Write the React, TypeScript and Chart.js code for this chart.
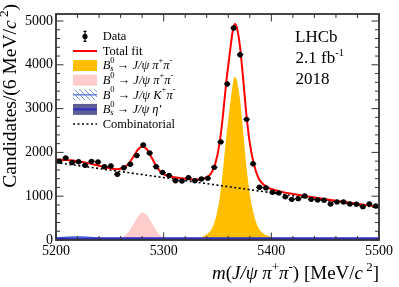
import React, { useEffect, useRef } from 'react';
import { Chart, registerables } from 'chart.js';
Chart.register(...registerables);

const FONT = "'Liberation Serif', 'Times New Roman', serif";

// ---- data (6 MeV bins) ----
const binCenters = [5203,5209,5215,5221,5227,5233,5239,5245,5251,5257,5263,5269,5275,5281,5287,5293,5299,5305,5311,5317,5323,5329,5335,5341,5347,5353,5359,5365,5371,5377,5383,5389,5395,5401,5407,5413,5419,5425,5431,5437,5443,5449,5455,5461,5467,5473,5479,5485,5491,5497];
const candidates = [1800,1875,1770,1785,1708,1796,1780,1674,1689,1500,1651,1730,1930,2169,1985,1674,1540,1475,1354,1347,1423,1354,1393,1408,1659,2240,3562,4840,4231,2755,1740,1203,1190,1090,1075,985,928,944,1005,928,913,906,822,870,868,822,818,761,822,775];
const binHalfWidth = 3;

// ---- fit components ----
const fitMass = [5200,5210,5220,5230,5240,5250,5256,5260,5264,5268,5272,5276,5280,5284,5288,5292,5296,5300,5305,5310,5320,5330,5336,5340,5344,5348,5352,5355,5358,5361,5364,5366,5368,5371,5374,5377,5380,5384,5388,5392,5396,5400,5410,5420,5440,5460,5480,5500];
const totalFit = [1837,1824,1800,1755,1695,1638,1617,1626,1666,1761,1908,2060,2136,2083,1919,1737,1589,1506,1456,1431,1398,1380,1393,1434,1519,1745,2222,2831,3571,4180,4749,4932,4845,4395,3635,2824,2214,1710,1416,1283,1209,1165,1099,1051,971,897,826,755];
const combinatorial = [1770,1736,1701,1667,1632,1598,1577,1563,1549,1535,1522,1508,1494,1480,1466,1453,1439,1425,1408,1391,1356,1322,1301,1287,1273,1259,1246,1235,1225,1215,1204,1197,1190,1180,1170,1159,1149,1135,1121,1108,1094,1080,1046,1011,942,873,804,735];
const bsPiPi = [2,2,3,3,4,5,5,5,6,6,6,7,7,8,8,9,10,11,13,15,22,40,75,130,230,470,960,1580,2330,2950,3530,3720,3640,3200,2450,1650,1050,560,280,160,100,70,38,25,14,9,7,5];
const b0PiPi = [0,1,1,2,4,8,15,40,95,205,365,530,620,580,430,260,125,55,20,10,5,3,2,2,1,1,1,1,1,0,0,0,0,0,0,0,0,0,0,0,0,0,0,0,0,0,0,0];
const b0KPi = [50,70,80,68,40,12,5,3,1,0,0,0,0,0,0,0,0,0,0,0,0,0,0,0,0,0,0,0,0,0,0,0,0,0,0,0,0,0,0,0,0,0,0,0,0,0,0,0];
const bsEtaP = [40,40,40,40,40,40,40,40,40,40,40,40,40,40,40,40,40,40,40,40,40,40,40,40,40,40,40,40,40,40,40,40,40,40,40,40,40,40,40,40,40,40,40,40,40,40,40,40];

// ---- axes ----
const xTickLabels = [5200, 5300, 5400, 5500];
const yTickLabels = [0, 1000, 2000, 3000, 4000, 5000];
const xRange = [5200, 5500];
const yRange = [0, 5160];
const minorDivisions = 5;

type Run = { t: string; it?: boolean; sc?: number; dy?: number; stay?: boolean };

function drawRuns(ctx: CanvasRenderingContext2D, x: number, y: number, size: number, runs: Run[], measureOnly = false) {
  let cx = x;
  for (const r of runs) {
    const s = size * (r.sc ?? 1);
    ctx.font = `${r.it ? 'italic ' : ''}${s}px ${FONT}`;
    const w = ctx.measureText(r.t).width;
    if (!measureOnly) ctx.fillText(r.t, cx, y + (r.dy ?? 0) * size);
    if (!r.stay) cx += w;
  }
  return cx - x;
}

const SUP = { sc: 0.68, dy: -0.42 };
const SUB = { sc: 0.68, dy: 0.22 };

const legendRows: { label: Run[]; kind: string }[] = [
  { kind: 'data', label: [{ t: 'Data' }] },
  { kind: 'total', label: [{ t: 'Total fit' }] },
  { kind: 'bs', label: [{ t: 'B', it: true }, { t: '0', ...SUP, stay: true }, { t: 's', it: true, ...SUB }, { t: ' \u2192 ' }, { t: 'J/\u03C8', it: true }, { t: ' \u03C0', it: true }, { t: '+', ...SUP }, { t: '\u03C0', it: true }, { t: '-', ...SUP }] },
  { kind: 'b0', label: [{ t: 'B', it: true }, { t: '0', ...SUP }, { t: ' \u2192 ' }, { t: 'J/\u03C8', it: true }, { t: ' \u03C0', it: true }, { t: '+', ...SUP }, { t: '\u03C0', it: true }, { t: '-', ...SUP }] },
  { kind: 'kpi', label: [{ t: 'B', it: true }, { t: '0', ...SUP }, { t: ' \u2192 ' }, { t: 'J/\u03C8', it: true }, { t: ' K', it: true }, { t: '+', ...SUP }, { t: '\u03C0', it: true }, { t: '-', ...SUP }] },
  { kind: 'eta', label: [{ t: 'B', it: true }, { t: '0', ...SUP, stay: true }, { t: 's', it: true, ...SUB }, { t: ' \u2192 ' }, { t: 'J/\u03C8', it: true }, { t: ' \u03B7\u2032', it: true }] },
  { kind: 'comb', label: [{ t: 'Combinatorial' }] },
];

const COL = {
  red: 'rgb(255,0,0)',
  orange: 'rgb(255,191,0)',
  pink: 'rgb(255,204,204)',
  hatch: 'rgb(120,150,230)',
  hatchLine: 'rgb(100,130,225)',
  etaFill: 'rgb(95,95,150)',
  etaLine: 'rgb(45,45,200)',
  frame: '#333',
};

function makeHatch(): CanvasPattern | string {
  const c = document.createElement('canvas');
  c.width = 5; c.height = 5;
  const g = c.getContext('2d');
  if (!g) return COL.hatch;
  g.strokeStyle = COL.hatch;
  g.lineWidth = 1;
  g.beginPath();
  g.moveTo(0, 0); g.lineTo(5, 5);
  g.moveTo(-1, 4); g.lineTo(1, 6);
  g.moveTo(4, -1); g.lineTo(6, 1);
  g.stroke();
  return g.createPattern(c, 'repeat') || COL.hatch;
}

export default function App() {
  const ref = useRef<HTMLCanvasElement>(null);
  useEffect(() => {
    const canvas = ref.current;
    if (!canvas) return;
    const hatch = makeHatch();
    const pts = (ys: number[]) => fitMass.map((x, i) => ({ x, y: ys[i] }));
    const curve = {
      pointRadius: 0, borderWidth: 0, tension: 0.4, cubicInterpolationMode: 'monotone' as const,
    };

    const tickValues = (majors: number[], lo: number, hi: number) => {
      const out: { v: number; major: boolean }[] = [];
      const step = (majors[1] - majors[0]) / minorDivisions;
      for (let v = majors[0] - 5 * step; v <= hi + 1e-6; v += step) {
        if (v < lo - 1e-6) continue;
        const major = majors.some((m) => Math.abs(m - v) < 1e-6);
        out.push({ v, major });
      }
      return out;
    };

    const decor = {
      id: 'decor',
      afterDatasetsDraw(chart: any) {
        const { ctx, scales: { x, y } } = chart;
        ctx.save();
        ctx.strokeStyle = '#000';
        ctx.lineWidth = 1.2;
        ctx.beginPath();
        binCenters.forEach((m, i) => {
          const n = candidates[i];
          const e = Math.sqrt(n);
          const cy = y.getPixelForValue(n);
          ctx.moveTo(x.getPixelForValue(m - binHalfWidth), cy);
          ctx.lineTo(x.getPixelForValue(m + binHalfWidth), cy);
          const cx = x.getPixelForValue(m);
          ctx.moveTo(cx, y.getPixelForValue(n + e));
          ctx.lineTo(cx, y.getPixelForValue(n - e));
        });
        ctx.stroke();
        ctx.restore();
      },
      afterDraw(chart: any) {
        const { ctx, chartArea: a, scales: { x, y } } = chart;
        ctx.save();
        // inward ticks on all four sides
        ctx.strokeStyle = COL.frame;
        ctx.lineWidth = 1;
        ctx.beginPath();
        tickValues(xTickLabels, xRange[0], xRange[1]).forEach(({ v, major }) => {
          const px = x.getPixelForValue(v);
          const L = major ? 7.5 : 4;
          ctx.moveTo(px, a.bottom); ctx.lineTo(px, a.bottom - L);
          ctx.moveTo(px, a.top); ctx.lineTo(px, a.top + L);
        });
        tickValues(yTickLabels, yRange[0], yRange[1]).forEach(({ v, major }) => {
          const py = y.getPixelForValue(v);
          const L = major ? 7.5 : 4;
          ctx.moveTo(a.left, py); ctx.lineTo(a.left + L, py);
          ctx.moveTo(a.right, py); ctx.lineTo(a.right - L, py);
        });
        ctx.stroke();
        // frame
        ctx.lineWidth = 1.8;
        ctx.strokeRect(a.left, a.top, a.right - a.left, a.bottom - a.top);

        // legend
        ctx.fillStyle = '#000';
        ctx.textBaseline = 'middle';
        ctx.textAlign = 'left';
        const sx0 = 73, sx1 = 97, tx = 102.7;
        legendRows.forEach((row, i) => {
          const ry = 36.4 + 14.6 * i;
          if (row.kind === 'data') {
            ctx.strokeStyle = '#000'; ctx.lineWidth = 1.2;
            ctx.beginPath();
            ctx.moveTo(85, ry - 5); ctx.lineTo(85, ry + 5);
            ctx.moveTo(83.5, ry - 5); ctx.lineTo(86.5, ry - 5);
            ctx.moveTo(83.5, ry + 5); ctx.lineTo(86.5, ry + 5);
            ctx.stroke();
            ctx.beginPath(); ctx.arc(85, ry, 2.6, 0, Math.PI * 2); ctx.fillStyle = '#000'; ctx.fill();
          } else if (row.kind === 'total') {
            ctx.strokeStyle = COL.red; ctx.lineWidth = 2;
            ctx.beginPath(); ctx.moveTo(sx0, ry); ctx.lineTo(sx1, ry); ctx.stroke();
          } else if (row.kind === 'bs') {
            ctx.fillStyle = COL.orange; ctx.fillRect(sx0, ry - 5.5, sx1 - sx0, 11);
          } else if (row.kind === 'b0') {
            ctx.fillStyle = COL.pink; ctx.fillRect(sx0, ry - 5.5, sx1 - sx0, 11);
          } else if (row.kind === 'kpi') {
            ctx.fillStyle = hatch as any; ctx.fillRect(sx0, ry - 5.5, sx1 - sx0, 11);
            ctx.strokeStyle = COL.hatchLine; ctx.lineWidth = 1.5;
            ctx.beginPath(); ctx.moveTo(sx0, ry); ctx.lineTo(sx1, ry); ctx.stroke();
          } else if (row.kind === 'eta') {
            ctx.fillStyle = COL.etaFill; ctx.fillRect(sx0, ry - 5.5, sx1 - sx0, 11);
            ctx.strokeStyle = COL.etaLine; ctx.lineWidth = 2;
            ctx.beginPath(); ctx.moveTo(sx0, ry); ctx.lineTo(sx1, ry); ctx.stroke();
          } else if (row.kind === 'comb') {
            ctx.strokeStyle = '#000'; ctx.lineWidth = 1.6; ctx.setLineDash([2, 2.5]);
            ctx.beginPath(); ctx.moveTo(sx0, ry); ctx.lineTo(sx1, ry); ctx.stroke();
            ctx.setLineDash([]);
          }
          ctx.fillStyle = '#000';
          drawRuns(ctx, tx, ry + 0.5, 12.5, row.label);
        });

        // LHCb label
        ctx.textBaseline = 'alphabetic';
        drawRuns(ctx, 295, 41.5, 17, [{ t: 'LHCb' }]);
        drawRuns(ctx, 295.5, 63, 17, [{ t: '2.1 fb' }, { t: '-1', sc: 0.62, dy: -0.42 }]);
        drawRuns(ctx, 295.5, 84, 17, [{ t: '2018' }]);

        // x title (right aligned)
        const xRuns: Run[] = [{ t: 'm', it: true }, { t: '(' }, { t: 'J/\u03C8', it: true }, { t: ' \u03C0', it: true }, { t: '+', ...SUP }, { t: '\u03C0', it: true }, { t: '-', ...SUP }, { t: ') [MeV/' }, { t: 'c', it: true }, { t: ' 2', ...SUP }, { t: ']' }];
        const xs = 19;
        const wx = drawRuns(ctx, 0, 0, xs, xRuns, true);
        drawRuns(ctx, a.right - wx, 278.5, xs, xRuns);

        // y title (rotated, aligned to top)
        const yRuns: Run[] = [{ t: 'Candidates/(6 MeV/' }, { t: 'c', it: true }, { t: ' 2', ...SUP }, { t: ')' }];
        const ys = 19.5;
        const wy = drawRuns(ctx, 0, 0, ys, yRuns, true);
        ctx.translate(16, 4);
        ctx.rotate(-Math.PI / 2);
        drawRuns(ctx, -wy, 0, ys, yRuns);
        ctx.restore();
      },
    };

    const chart = new Chart(canvas, {
      type: 'line',
      data: {
        datasets: [
          {
            label: 'Data', data: binCenters.map((x, i) => ({ x, y: candidates[i] })), showLine: false,
            pointRadius: 2.7, pointBackgroundColor: '#000', pointBorderWidth: 0, borderColor: '#000',
          },
          { label: 'Total fit', data: pts(totalFit), ...curve, borderColor: COL.red, borderWidth: 2, fill: false },
          { label: 'Combinatorial', data: pts(combinatorial), ...curve, borderColor: '#000', borderWidth: 1.6, borderDash: [2, 2.5], fill: false },
          { label: "Bs->J/psi eta'", data: pts(bsEtaP), ...curve, borderColor: COL.etaLine, borderWidth: 2, backgroundColor: COL.etaFill, fill: 'origin' },
          { label: 'B0->J/psi K pi', data: pts(b0KPi), ...curve, borderColor: COL.hatchLine, borderWidth: 1, backgroundColor: hatch as any, fill: 'origin' },
          { label: 'B0->J/psi pi pi', data: pts(b0PiPi), ...curve, borderColor: COL.pink, borderWidth: 0, backgroundColor: COL.pink, fill: 'origin' },
          { label: 'Bs->J/psi pi pi', data: pts(bsPiPi), ...curve, borderColor: COL.orange, borderWidth: 0, backgroundColor: COL.orange, fill: 'origin' },
        ],
      },
      options: {
        responsive: false,
        animation: false,
        events: [],
        layout: { padding: { top: 14, right: 20, left: 0, bottom: 0 } },
        plugins: { legend: { display: false }, tooltip: { enabled: false } },
        scales: {
          x: {
            type: 'linear', min: xRange[0], max: xRange[1],
            grid: { display: false, drawTicks: false }, border: { display: false },
            ticks: {
              autoSkip: false, maxRotation: 0, padding: 3, color: '#000',
              font: { family: FONT, size: 14 },
              callback: (v: any) => String(Math.round(Number(v))),
            },
            afterBuildTicks: (s: any) => { s.ticks = xTickLabels.map((value) => ({ value })); },
            afterFit: (s: any) => { s.height = 47; },
          },
          y: {
            type: 'linear', min: yRange[0], max: yRange[1],
            grid: { display: false, drawTicks: false }, border: { display: false },
            ticks: {
              autoSkip: false, padding: 3, color: '#000',
              font: { family: FONT, size: 14 },
              callback: (v: any) => String(Math.round(Number(v))),
            },
            afterBuildTicks: (s: any) => { s.ticks = yTickLabels.map((value) => ({ value })); },
            afterFit: (s: any) => { s.width = 56; },
          },
        },
      },
      plugins: [decor],
    });
    return () => chart.destroy();
  }, []);

  return (
    <div style={{ position: 'absolute', left: 0, top: 0, width: 399, height: 287, background: '#fff' }}>
      <canvas ref={ref} width={399} height={287} style={{ display: 'block', width: 399, height: 287 }} />
    </div>
  );
}
